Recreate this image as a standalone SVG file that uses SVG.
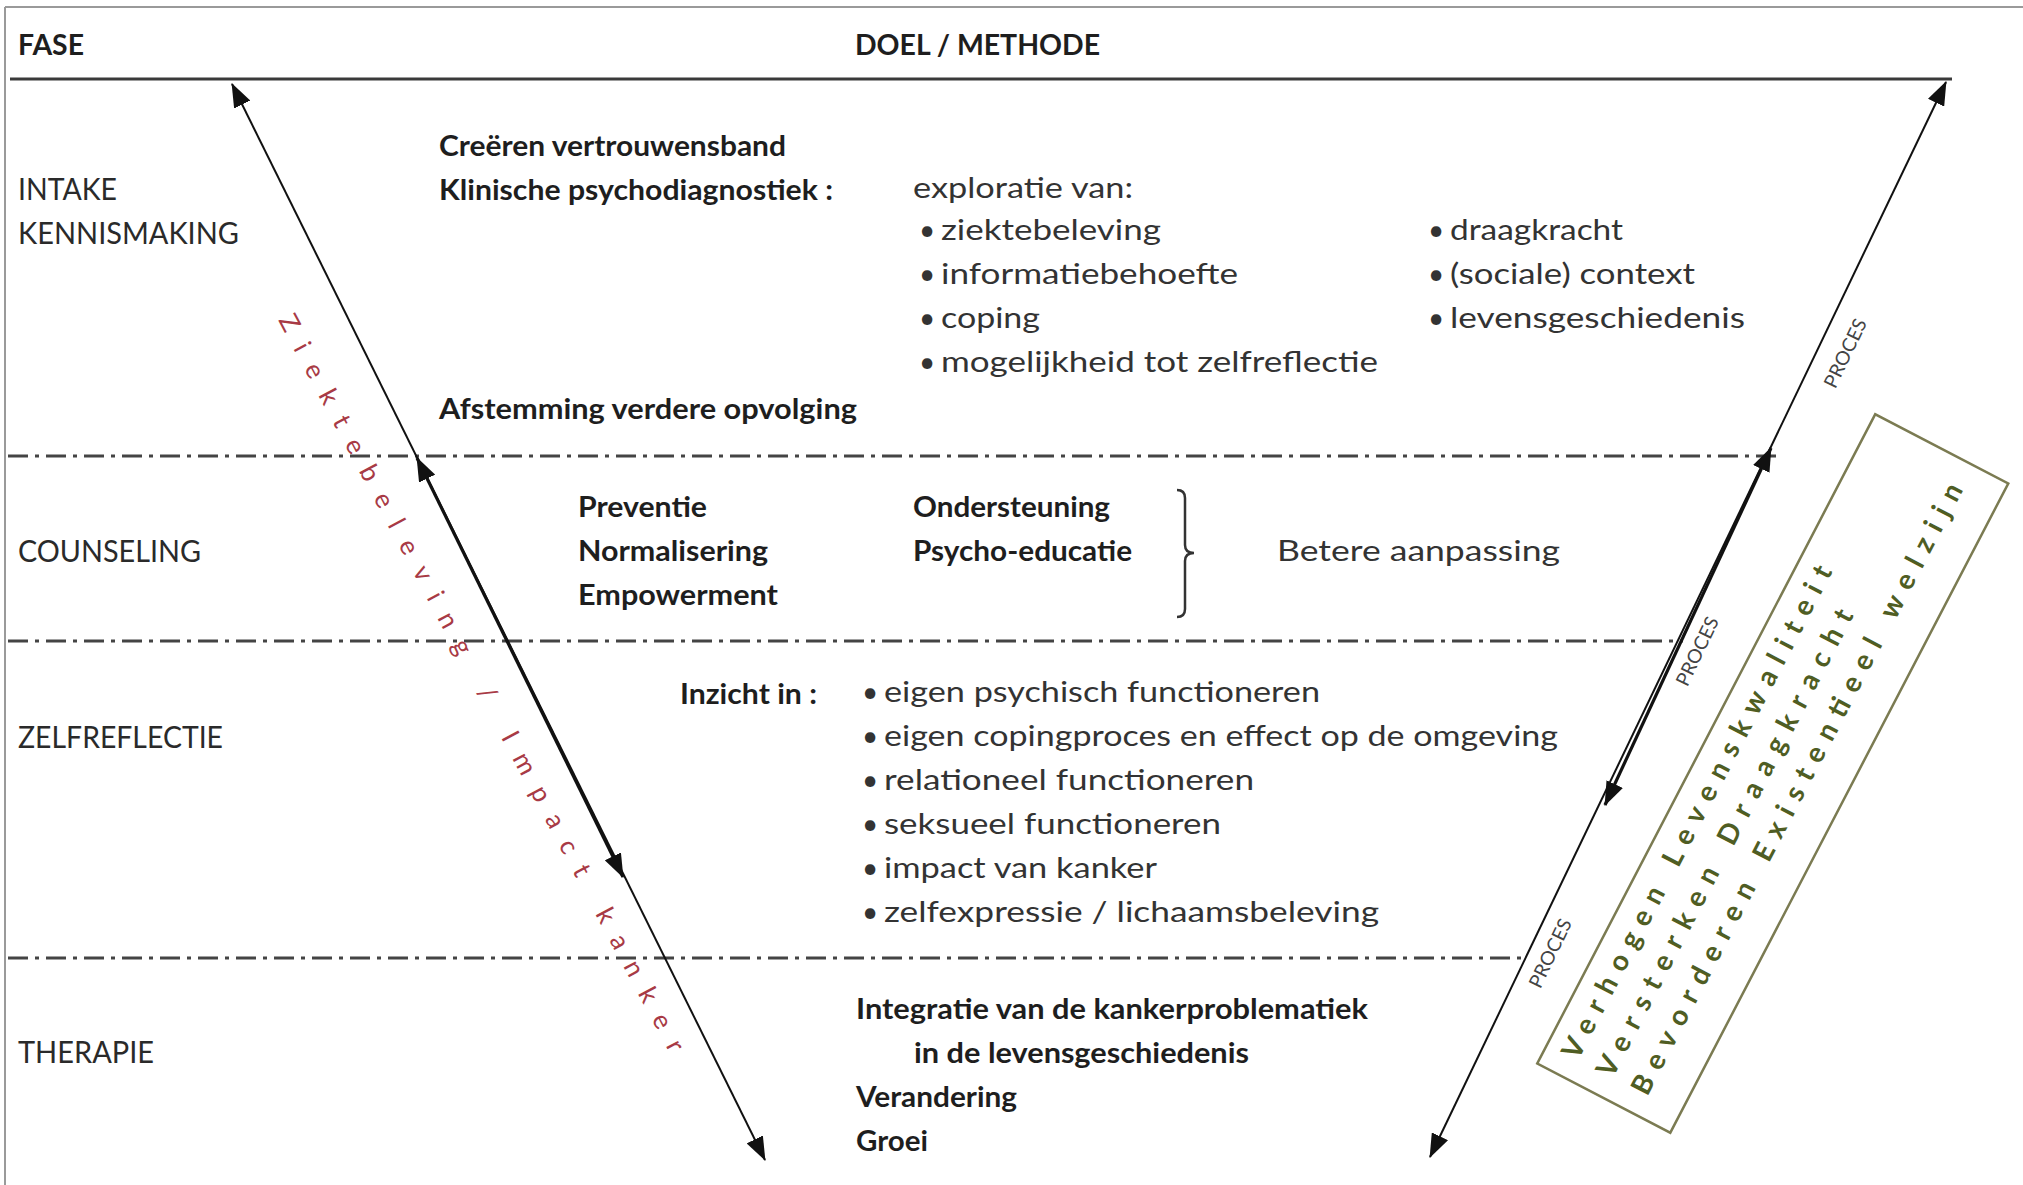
<svg xmlns="http://www.w3.org/2000/svg" width="2023" height="1185" viewBox="0 0 2023 1185">
<defs>
<style>
.b{font-family:Lato,'Liberation Sans',sans-serif;font-weight:700;font-size:29px;fill:#1e1e1e}
.r{font-family:Lato,'Liberation Sans',sans-serif;font-weight:400;font-size:28px;fill:#333}
.ph{font-family:Lato,'Liberation Sans',sans-serif;font-weight:400;font-size:30px;fill:#2a2a2a}
.proc{font-family:Lato,'Liberation Sans',sans-serif;font-weight:400;font-size:19px;fill:#444}
.goal{font-family:Lato,'Liberation Sans',sans-serif;font-weight:700;font-size:28px;fill:#4f5d23}
.red{font-family:Lato,'Liberation Sans',sans-serif;font-weight:400;font-size:26px;fill:#a83a45}
.dd{stroke:#444;stroke-width:3;stroke-dasharray:20 7 4 7;fill:none}
.ln{stroke:#111;stroke-width:2;fill:none;marker-start:url(#ah);marker-end:url(#ah)}
.thk{stroke-width:3.2}
.frame{stroke:#9a9a9a;stroke-width:2;fill:none}
</style>
<marker id="ah" viewBox="0 0 24 18" refX="23" refY="9" markerWidth="24" markerHeight="18" markerUnits="userSpaceOnUse" orient="auto-start-reverse">
<path d="M0,0 L24,9 L0,18 z" fill="#111"/>
</marker>
</defs>
<rect x="0" y="0" width="2023" height="1185" fill="#fff"/>

<g id="frame">
<line class="frame" x1="5" y1="7" x2="2023" y2="7"/>
<line class="frame" x1="5" y1="7" x2="5" y2="1185"/>
<line x1="10" y1="79" x2="1952" y2="79" stroke="#3a3a3a" stroke-width="3"/>
</g>

<g id="header">
<text class="b" x="18" y="55" textLength="66" lengthAdjust="spacingAndGlyphs">FASE</text>
<text class="b" x="855" y="55" textLength="245" lengthAdjust="spacingAndGlyphs">DOEL / METHODE</text>
</g>

<g id="connectors">
<line class="dd" x1="8" y1="456" x2="1781" y2="456"/>
<line class="dd" x1="8" y1="641" x2="1683" y2="641"/>
<line class="dd" x1="8" y1="958" x2="1524" y2="958"/>
<line class="ln" x1="232" y1="84" x2="765" y2="1160"/>
<line class="ln thk" x1="417" y1="458" x2="623" y2="877"/>
<line class="ln" x1="1946" y1="82" x2="1430" y2="1157"/>
<line class="ln thk" x1="1771" y1="448" x2="1605" y2="805"/>
<path d="M1177,490 Q1185,490 1185,498 L1185,545 Q1185,553 1194,553 Q1185,553 1185,561 L1185,609 Q1185,617 1177,617" fill="none" stroke="#333" stroke-width="2.5"/>
</g>

<g id="phase-intake">
<text class="ph" x="18" y="200" textLength="99" lengthAdjust="spacingAndGlyphs">INTAKE</text>
<text class="ph" x="18" y="244" textLength="221" lengthAdjust="spacingAndGlyphs">KENNISMAKING</text>
</g>
<g id="phase-counseling">
<text class="ph" x="18" y="562" textLength="183" lengthAdjust="spacingAndGlyphs">COUNSELING</text>
</g>
<g id="phase-zelfreflectie">
<text class="ph" x="18" y="748" textLength="205" lengthAdjust="spacingAndGlyphs">ZELFREFLECTIE</text>
</g>
<g id="phase-therapie">
<text class="ph" x="18" y="1063" textLength="136" lengthAdjust="spacingAndGlyphs">THERAPIE</text>
</g>

<g id="block-intake">
<text class="b" x="439" y="156" textLength="347" lengthAdjust="spacingAndGlyphs">Creëren vertrouwensband</text>
<text class="b" x="439" y="200" textLength="394" lengthAdjust="spacingAndGlyphs">Klinische psychodiagnostiek :</text>
<text class="b" x="439" y="419" textLength="418" lengthAdjust="spacingAndGlyphs">Afstemming verdere opvolging</text>
<text class="r" x="913" y="198" textLength="220" lengthAdjust="spacingAndGlyphs">exploratie van:</text>
<text class="r" x="919" y="240">•</text>
<text class="r" x="941" y="240" textLength="220" lengthAdjust="spacingAndGlyphs">ziektebeleving</text>
<text class="r" x="919" y="284">•</text>
<text class="r" x="941" y="284" textLength="297" lengthAdjust="spacingAndGlyphs">informatiebehoefte</text>
<text class="r" x="919" y="328">•</text>
<text class="r" x="941" y="328" textLength="99" lengthAdjust="spacingAndGlyphs">coping</text>
<text class="r" x="919" y="372">•</text>
<text class="r" x="941" y="372" textLength="437" lengthAdjust="spacingAndGlyphs">mogelijkheid tot zelfreflectie</text>
<text class="r" x="1428" y="240">•</text>
<text class="r" x="1450" y="240" textLength="173" lengthAdjust="spacingAndGlyphs">draagkracht</text>
<text class="r" x="1428" y="284">•</text>
<text class="r" x="1450" y="284" textLength="245" lengthAdjust="spacingAndGlyphs">(sociale) context</text>
<text class="r" x="1428" y="328">•</text>
<text class="r" x="1450" y="328" textLength="295" lengthAdjust="spacingAndGlyphs">levensgeschiedenis</text>
</g>

<g id="block-counseling">
<text class="b" x="578" y="517" textLength="129" lengthAdjust="spacingAndGlyphs">Preventie</text>
<text class="b" x="578" y="561" textLength="190" lengthAdjust="spacingAndGlyphs">Normalisering</text>
<text class="b" x="578" y="605" textLength="200" lengthAdjust="spacingAndGlyphs">Empowerment</text>
<text class="b" x="913" y="517" textLength="197" lengthAdjust="spacingAndGlyphs">Ondersteuning</text>
<text class="b" x="913" y="561" textLength="219" lengthAdjust="spacingAndGlyphs">Psycho-educatie</text>
<text class="r" x="1277" y="561" textLength="283" lengthAdjust="spacingAndGlyphs">Betere aanpassing</text>
</g>

<g id="block-zelfreflectie">
<text class="b" x="680" y="704" textLength="137" lengthAdjust="spacingAndGlyphs">Inzicht in :</text>
<text class="r" x="862" y="702">•</text>
<text class="r" x="884" y="702" textLength="436" lengthAdjust="spacingAndGlyphs">eigen psychisch functioneren</text>
<text class="r" x="862" y="746">•</text>
<text class="r" x="884" y="746" textLength="674" lengthAdjust="spacingAndGlyphs">eigen copingproces en effect op de omgeving</text>
<text class="r" x="862" y="790">•</text>
<text class="r" x="884" y="790" textLength="370" lengthAdjust="spacingAndGlyphs">relationeel functioneren</text>
<text class="r" x="862" y="834">•</text>
<text class="r" x="884" y="834" textLength="337" lengthAdjust="spacingAndGlyphs">seksueel functioneren</text>
<text class="r" x="862" y="878">•</text>
<text class="r" x="884" y="878" textLength="273" lengthAdjust="spacingAndGlyphs">impact van kanker</text>
<text class="r" x="862" y="922">•</text>
<text class="r" x="884" y="922" textLength="495" lengthAdjust="spacingAndGlyphs">zelfexpressie / lichaamsbeleving</text>
</g>

<g id="block-therapie">
<text class="b" x="856" y="1019" textLength="512" lengthAdjust="spacingAndGlyphs">Integratie van de kankerproblematiek</text>
<text class="b" x="914" y="1063" textLength="335" lengthAdjust="spacingAndGlyphs">in de levensgeschiedenis</text>
<text class="b" x="856" y="1107" textLength="161" lengthAdjust="spacingAndGlyphs">Verandering</text>
<text class="b" x="856" y="1151" textLength="72" lengthAdjust="spacingAndGlyphs">Groei</text>
</g>

<g id="label-ziektebeleving">
<text class="red" transform="translate(278,320) rotate(61.9)" textLength="832" lengthAdjust="spacing">Ziektebeleving / Impact kanker</text>
</g>

<g id="label-proces">
<text class="proc" transform="translate(1845,353) rotate(-64.4)" y="7" text-anchor="middle" textLength="74" lengthAdjust="spacingAndGlyphs">PROCES</text>
<text class="proc" transform="translate(1697,651) rotate(-64.4)" y="7" text-anchor="middle" textLength="74" lengthAdjust="spacingAndGlyphs">PROCES</text>
<text class="proc" transform="translate(1550,953) rotate(-64.4)" y="7" text-anchor="middle" textLength="74" lengthAdjust="spacingAndGlyphs">PROCES</text>
</g>

<g id="goal-box" transform="translate(1772.75,773.5) rotate(-62.5)">
<rect x="-366" y="-75" width="732" height="150" fill="none" stroke="#7b7b52" stroke-width="2.5"/>
<text class="goal" x="-345" y="-40" textLength="552" lengthAdjust="spacing">Verhogen Levenskwaliteit</text>
<text class="goal" x="-345" y="-1" textLength="523" lengthAdjust="spacing">Versterken Draagkracht</text>
<text class="goal" x="-345" y="38" textLength="685" lengthAdjust="spacing">Bevorderen Existentieel welzijn</text>
</g>
</svg>
